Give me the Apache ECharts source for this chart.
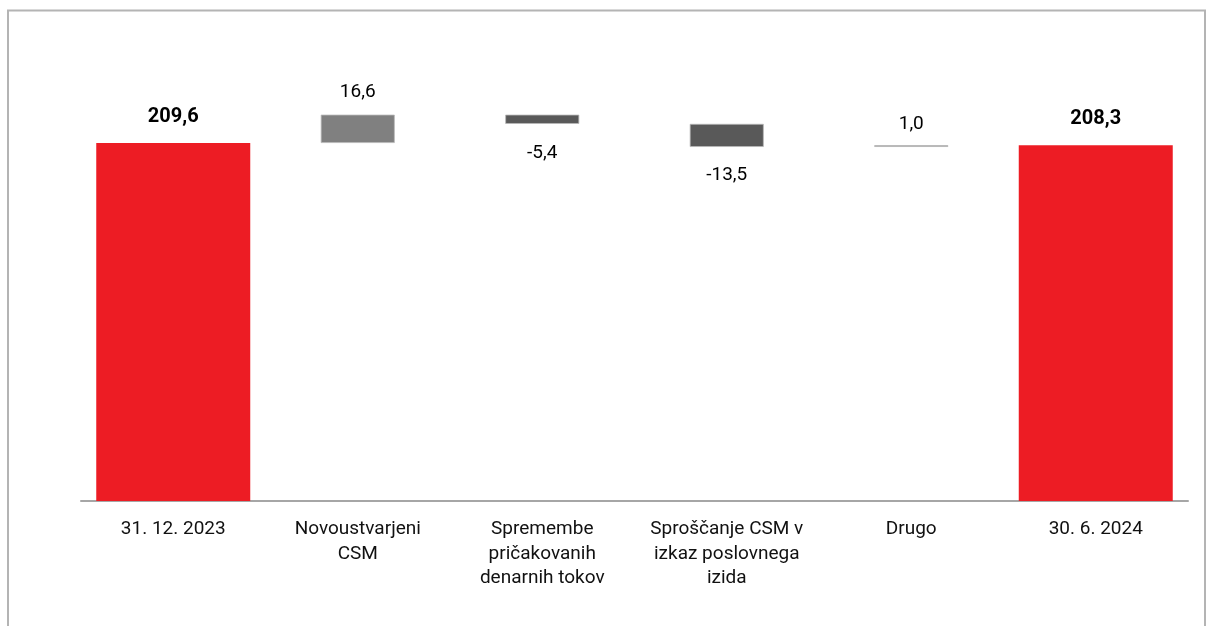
<!DOCTYPE html>
<html>
<head>
<meta charset="utf-8">
<script src="https://cdn.jsdelivr.net/npm/echarts@6/dist/echarts.min.js"></script>
<style>
html,body{margin:0;padding:0;background:#fff;}
#chart{width:1208px;height:626px;}
</style>
</head>
<body>
<div id="chart"></div>
<script>
// ---- data ----
var categories = ['31. 12. 2023', 'Novoustvarjeni\nCSM', 'Spremembe\npričakovanih\ndenarnih tokov', 'Sproščanje CSM v\nizkaz poslovnega\nizida', 'Drugo', '30. 6. 2024'];
var totals = [209.6, null, null, null, null, 208.3];
var changes = [null, 16.6, -5.4, -13.5, 1.0, null];

// ---- styling (label gaps per category) ----
var labelGap = [16, 13, 20, 19, 11, 16];

// ---- derive waterfall stacks ----
var base = [], up = [], down = [];
var running = 0;
for (var i = 0; i < categories.length; i++) {
  if (totals[i] != null) {
    running = totals[i];
    base.push(null); up.push(null); down.push(null);
  } else {
    var c = changes[i];
    if (c >= 0) {
      base.push(running);
      up.push({value: c, label: {distance: labelGap[i]}});
      down.push(null);
      running += c;
    } else {
      running += c;
      base.push(running);
      up.push(null);
      down.push({value: -c, label: {distance: labelGap[i]}});
    }
  }
}
function fmt(v) { return v.toFixed(1).replace('.', ','); }

var FONT = 'Roboto';
var chart = echarts.init(document.getElementById('chart'), null, {renderer: 'canvas'});
chart.setOption({
  animation: false,
  backgroundColor: '#ffffff',
  graphic: [{
    type: 'rect',
    shape: {x: 8, y: 10.5, width: 1197, height: 700},
    style: {fill: null, stroke: '#b4b4b4', lineWidth: 2},
    silent: true
  }],
  grid: {left: 81, right: 20, top: 74, bottom: 125},
  xAxis: [{
    type: 'category',
    data: categories,
    axisLine: {lineStyle: {color: '#a6a6a6', width: 2}},
    axisTick: {show: false},
    axisLabel: {
      interval: 0, margin: 16, fontFamily: FONT, fontSize: 19, lineHeight: 24.5,
      color: '#111'
    }
  }, {
    type: 'category',
    data: categories,
    show: false
  }],
  yAxis: {type: 'value', min: 0, max: 250, show: false, splitLine: {show: false}},
  series: [{
    name: 'Stanje',
    type: 'bar',
    xAxisIndex: 0,
    barWidth: 154,
    data: totals,
    itemStyle: {color: '#ed1c24'},
    label: {
      show: true, position: 'top', distance: 16,
      fontFamily: FONT, fontSize: 20, fontWeight: 'bold', lineHeight: 20, color: '#000',
      formatter: function (p) { return fmt(p.value); }
    }
  }, {
    name: 'base',
    type: 'bar',
    xAxisIndex: 1,
    stack: 'w',
    barWidth: 74,
    data: base,
    itemStyle: {color: 'rgba(0,0,0,0)'},
    silent: true
  }, {
    name: 'Povečanje',
    type: 'bar',
    xAxisIndex: 1,
    stack: 'w',
    barWidth: 74,
    data: up,
    itemStyle: {color: '#808080', borderColor: '#b8b8b8', borderWidth: 0.8},
    label: {
      show: true, position: 'top',
      fontFamily: FONT, fontSize: 19, lineHeight: 19, color: '#000',
      formatter: function (p) { return fmt(changes[p.dataIndex]); }
    }
  }, {
    name: 'Zmanjšanje',
    type: 'bar',
    xAxisIndex: 1,
    stack: 'w',
    barWidth: 74,
    data: down,
    itemStyle: {color: '#595959', borderColor: '#b8b8b8', borderWidth: 0.8},
    label: {
      show: true, position: 'bottom',
      fontFamily: FONT, fontSize: 19, lineHeight: 19, color: '#000',
      formatter: function (p) { return fmt(changes[p.dataIndex]); }
    }
  }]
});
</script>
</body>
</html>
